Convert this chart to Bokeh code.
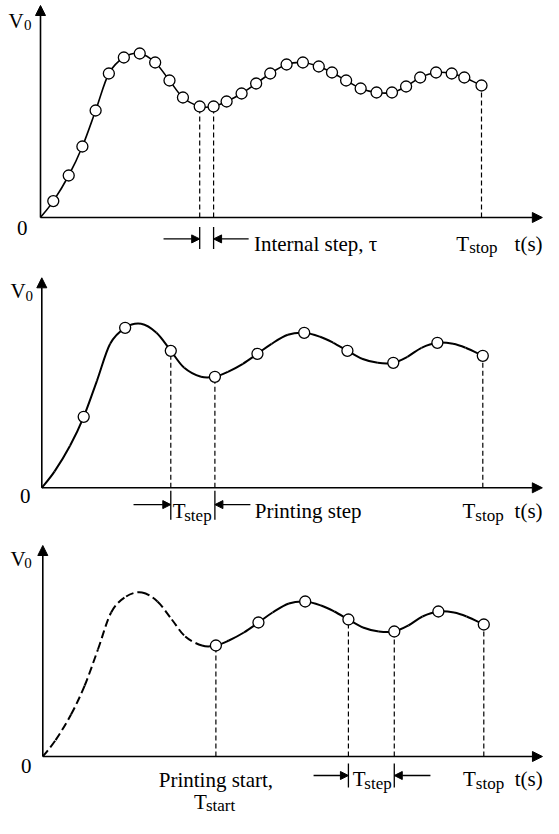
from bokeh.plotting import figure
from bokeh.models import Range1d, Arrow, NormalHead
from bokeh.layouts import column
from bokeh.core.properties import value
from bokeh.embed import file_html
from bokeh.resources import INLINE

# ---------------- data (t: % of T_stop, V: output voltage, arbitrary units) ----------------
t_internal = [0, 2.9, 6.4, 9.5, 12.5, 15.5, 18.9, 22.5, 26.0, 29.25, 32.3, 36.1, 39.25,
              42.2, 45.6, 48.9, 52.1, 55.8, 59.5, 63.1, 66.1, 69.3, 72.6, 76.2, 79.7,
              82.9, 86.1, 89.7, 93.25, 96.1, 100]
v_internal = [0, 0.082, 0.21, 0.355, 0.535, 0.72, 0.80, 0.82, 0.775, 0.685, 0.60, 0.555,
              0.555, 0.58, 0.62, 0.67, 0.72, 0.765, 0.775, 0.755, 0.725, 0.685, 0.645,
              0.625, 0.625, 0.655, 0.70, 0.725, 0.72, 0.70, 0.66]

print_idx = list(range(3, 31, 3))          # printed samples (every 3rd internal step)
start_idx = 12                              # printing start T_start
stop_idx = 30                               # T_stop
internal_pair = [11, 12]                    # internal step tau
step_pair_2 = [9, 12]                       # printing step (panel 2)
step_pair_3 = [21, 24]                      # printing step (panel 3)

FONT = value("Liberation Serif")
W = 543
PX_PER_T = 4.41
MAIN = 21
SUB = 17


def make_fig(h, axis_px, y0, y1):
    x0 = -axis_px / PX_PER_T
    x1 = (W - axis_px) / PX_PER_T
    p = figure(width=W, height=h, x_range=Range1d(x0, x1), y_range=Range1d(y0, y1),
               output_backend="svg", toolbar_location=None, min_border=0,
               x_axis_location=None, y_axis_location=None, outline_line_color=None)
    p.grid.visible = False
    p.background_fill_color = "white"
    p.border_fill_color = "white"
    return p


def txt(p, x, y, s, size=MAIN, align="left"):
    p.text(x=[x], y=[y], text=[s], text_font=FONT, text_font_size=f"{size}px",
           text_align=align, text_baseline="alphabetic", text_color="black")


def axes(p, ytop, xtip, vx, vy, subx, suby):
    for xe, ye in ((0, ytop), (xtip, 0)):
        p.add_layout(Arrow(end=NormalHead(size=10, fill_color="black", line_color="black"),
                           x_start=0, y_start=0, x_end=xe, y_end=ye,
                           line_width=1.6, line_color="black"))
    txt(p, vx, vy, "V")
    txt(p, subx, suby, "0", 15)


def guides(p, idx):
    xs = [t_internal[i] for i in idx]
    ys = [v_internal[i] for i in idx]
    p.segment(x0=xs, y0=[0] * len(xs), x1=xs, y1=ys, line_color="black",
              line_width=1.2, line_dash="5 3")


def smooth(p, i_from, i_to, **kw):
    """Catmull-Rom curve through the samples, drawn as Bezier segments."""
    xs, ys = t_internal, v_internal
    n = len(xs)
    d = dict(x0=[], y0=[], x1=[], y1=[], cx0=[], cy0=[], cx1=[], cy1=[])
    for i in range(i_from, i_to):
        a, b = max(i - 1, 0), min(i + 2, n - 1)
        d["x0"].append(xs[i]); d["y0"].append(ys[i])
        d["x1"].append(xs[i + 1]); d["y1"].append(ys[i + 1])
        d["cx0"].append(xs[i] + (xs[i + 1] - xs[a]) / 6)
        d["cy0"].append(ys[i] + (ys[i + 1] - ys[a]) / 6)
        d["cx1"].append(xs[i + 1] - (xs[b] - xs[i]) / 6)
        d["cy1"].append(ys[i + 1] - (ys[b] - ys[i]) / 6)
    p.bezier(line_color="black", **d, **kw)


def dimension(p, pair, ya, yb, yarr, left_tail, right_tail):
    xa, xb = t_internal[pair[0]], t_internal[pair[1]]
    p.segment(x0=[xa, xb], y0=[ya, ya], x1=[xa, xb], y1=[yb, yb],
              line_color="black", line_width=1.3)
    for tail, tip in ((left_tail, xa), (right_tail, xb)):
        p.add_layout(Arrow(end=NormalHead(size=8, fill_color="black", line_color="black"),
                           x_start=tail, y_start=yarr, x_end=tip, y_end=yarr,
                           line_width=1.3, line_color="black"))


def points(p, idx):
    p.scatter(x=[t_internal[i] for i in idx], y=[v_internal[i] for i in idx],
              marker="circle", size=11, fill_color="white", line_color="black",
              line_width=1.3)


# ---------------- panel 1: internal steps ----------------
p1 = make_fig(258, 40, -0.205, 1.085)
axes(p1, 1.06, 113.8, -7.26, 0.985, -3.74, 0.962)
guides(p1, internal_pair + [stop_idx])
smooth(p1, 0, stop_idx, line_width=1.6)
points(p1, list(range(1, 31)))
dimension(p1, internal_pair, -0.048, -0.157, -0.107, 27.9, 47.2)
txt(p1, -2.95, -0.05, "0", align="right")
txt(p1, 48.4, -0.132, "Internal step, τ")
txt(p1, 94.3, -0.132, "T")
txt(p1, 97.2, -0.152, "stop", SUB)
txt(p1, 107.5, -0.132, "t(s)")

# ---------------- panel 2: printing steps ----------------
p2 = make_fig(270, 41.3, -0.2035, 1.1465)
axes(p2, 1.05, 113.5, -7.1, 0.983, -3.7, 0.958)
guides(p2, step_pair_2 + [stop_idx])
smooth(p2, 0, stop_idx, line_width=2)
points(p2, print_idx)
dimension(p2, step_pair_2, -0.015, -0.16, -0.084, 20.8, 47.3)
txt(p2, -2.56, -0.043, "0", align="right")
txt(p2, 29.7, -0.117, "T")
txt(p2, 32.3, -0.137, "step", SUB)
txt(p2, 48.3, -0.117, "Printing step")
txt(p2, 95.4, -0.117, "T")
txt(p2, 98.3, -0.137, "stop", SUB)
txt(p2, 107.2, -0.117, "t(s)")

# ---------------- panel 3: printing start ----------------
p3 = make_fig(290, 42.3, -0.31, 1.14)
axes(p3, 1.055, 113.3, -7.32, 0.99, -4.2, 0.967)
idx3 = [i for i in print_idx if i >= start_idx]
guides(p3, [start_idx] + step_pair_3 + [stop_idx])
smooth(p3, 0, start_idx, line_width=2, line_dash="8 4")
smooth(p3, start_idx, stop_idx, line_width=2)
points(p3, idx3)
dimension(p3, step_pair_3, -0.035, -0.155, -0.095, 61.4, 87.9)
txt(p3, -2.56, -0.045, "0", align="right")
txt(p3, t_internal[start_idx], -0.1165, "Printing start,", align="center")
txt(p3, 34.3, -0.225, "T")
txt(p3, 37.0, -0.243, "start", SUB)
txt(p3, 70.3, -0.1115, "T")
txt(p3, 72.9, -0.133, "step", SUB)
txt(p3, 95.3, -0.1115, "T")
txt(p3, 98.2, -0.133, "stop", SUB)
txt(p3, 107.0, -0.1115, "t(s)")

layout = column(p1, p2, p3, spacing=0)
open("out.html", "w").write(file_html(layout, INLINE))
